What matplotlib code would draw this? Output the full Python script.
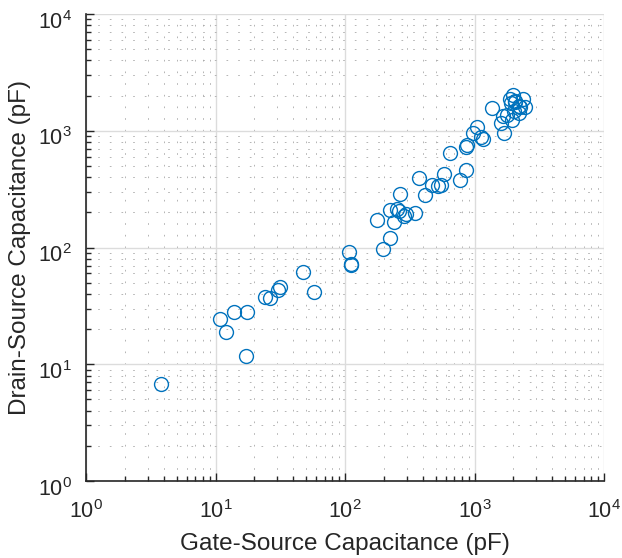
import matplotlib

matplotlib.use("Agg")
import matplotlib.pyplot as plt
from matplotlib.ticker import LogLocator, NullFormatter
from matplotlib.transforms import ScaledTranslation

# gate-source / drain-source capacitance pairs (pF)
gate_source_pf = [
    3.8, 10.8, 12.1, 13.9, 17.5, 17.2, 24.2, 26.5, 30.2, 31.6, 58, 47.3,
    108, 112, 112, 195, 222, 178, 237, 224, 253, 260, 286, 294, 347, 268,
    373, 418, 467, 522, 554, 580, 650, 767, 863, 863, 877, 966, 1050, 1126,
    1172, 1368, 1614, 1682, 1795, 1950, 1985, 2066, 2219, 2353, 2439, 1892,
    1651, 2250, 2030, 1925, 2066, 2219,
]
drain_source_pf = [
    6.8, 24.6, 18.9, 27.9, 28.2, 11.7, 37.6, 36.6, 43.2, 46.1, 41.2, 62.1,
    91, 72.4, 70.4, 97.5, 121, 172, 164, 208, 214, 204, 185, 195, 198, 288,
    396, 279, 344, 334, 340, 423, 642, 376, 464, 732, 757, 955, 1082, 888,
    848, 1557, 1156, 948, 1374, 1236, 2043, 1814, 1421, 1877, 1588, 1877,
    1346, 1588, 1490, 1735, 1780, 1633,
]

AXIS_COLOR = "#262626"
MARKER_COLOR = "#0072BD"

plt.rcParams["font.family"] = ["Liberation Sans", "DejaVu Sans"]
plt.rcParams["mathtext.fontset"] = "custom"
plt.rcParams["mathtext.rm"] = "Liberation Sans"
plt.rcParams["mathtext.it"] = "Liberation Sans"
plt.rcParams["mathtext.default"] = "regular"

fig = plt.figure(figsize=(6.22, 5.58), dpi=100)
ax = fig.add_axes([86 / 622, (558 - 481) / 558, 518 / 622, 467 / 558])

ax.plot(
    gate_source_pf,
    drain_source_pf,
    linestyle="none",
    marker="o",
    markersize=10,
    markerfacecolor="none",
    markeredgecolor=MARKER_COLOR,
    markeredgewidth=1.0,
)

ax.set_xscale("log")
ax.set_yscale("log")
ax.set_xlim(1, 1e4)
ax.set_ylim(1, 1e4)

for axis in (ax.xaxis, ax.yaxis):
    axis.set_major_locator(LogLocator(base=10, numticks=10))
    axis.set_minor_locator(LogLocator(base=10, subs=range(2, 10), numticks=20))
    axis.set_minor_formatter(NullFormatter())

ax.grid(which="major", color="#dcdcdc", linewidth=1.0, linestyle="-")
# sparse grey dots like MATLAB's minor grid
ax.grid(which="minor", color="#a8a8a8", linewidth=0.6, linestyle=(0, (2, 12)))
ax.set_axisbelow(True)

ax.spines["top"].set_visible(False)
ax.spines["right"].set_visible(False)
for side in ("left", "bottom"):
    ax.spines[side].set_color(AXIS_COLOR)
    ax.spines[side].set_linewidth(1.2)

ax.tick_params(which="both", direction="in", colors=AXIS_COLOR, labelsize=15.5)
ax.tick_params(which="major", length=6, width=1.0)
ax.tick_params(axis="x", which="major", pad=14)
ax.tick_params(axis="y", which="major", pad=10)
ax.tick_params(which="minor", length=3.5, width=1.0)

# MATLAB sits the y tick labels a little below their ticks
fig.canvas.draw()
shift = ScaledTranslation(0, -4 / 72, fig.dpi_scale_trans)
for lbl in ax.get_yticklabels():
    lbl.set_transform(lbl.get_transform() + shift)

ax.set_xlabel("Gate-Source Capacitance (pF)", fontsize=17.5, color=AXIS_COLOR, labelpad=7)
ax.set_ylabel("Drain-Source Capacitance (pF)", fontsize=17.5, color=AXIS_COLOR, labelpad=5)

fig.savefig("out.png", dpi=100)
